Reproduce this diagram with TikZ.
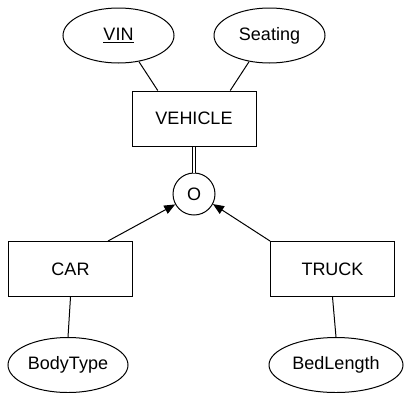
\documentclass[tikz,border=0pt]{standalone}
\usepackage{fontspec}
\setmainfont{Liberation Sans}
\usetikzlibrary{shapes.geometric,arrows.meta,calc}
\begin{document}
\begin{tikzpicture}[x=1pt,y=-1pt,
  every node/.style={font=\fontsize{18}{20}\selectfont},
  entity/.style={draw,line width=1pt,minimum width=124pt,minimum height=55pt,inner sep=0pt},
  attr/.style={draw,line width=1pt,ellipse,minimum height=55pt,inner sep=0pt},
  link/.style={line width=1pt},
  isa/.style={line width=1pt,-{Triangle[length=11pt,width=9pt]}}]
\useasboundingbox (0,0) rectangle (404,392);
% entities
\node[entity] (vehicle) at (194,118.5) {VEHICLE};
\node[entity] (car) at (70.5,269) {CAR};
\node[entity] (truck) at (332.5,269) {TRUCK};
% attributes
\node[attr,minimum width=111pt] (vin) at (118.5,35.5) {\underline{VIN}};
\node[attr,minimum width=111pt] (seating) at (269.5,35.5) {Seating};
\node[attr,minimum width=120pt] (bodytype) at (68,365) {BodyType};
\node[attr,minimum width=134pt] (bedlength) at (336,365) {BedLength};
% disjointness circle
\node[draw,line width=1pt,circle,minimum size=42pt,inner sep=0pt] (disj) at (194,194) {O};
% attribute links
\draw[link] (vin.-52) -- ($(vehicle.north west)!0.21!(vehicle.north east)$);
\draw[link] (seating.-128) -- ($(vehicle.north east)!0.21!(vehicle.north west)$);
\draw[link] (car.south) -- (bodytype.north);
\draw[link] (truck.south) -- (bedlength.north);
% total participation
\draw[line width=0.8pt,double,double distance=2.5pt] (vehicle.south) -- (disj.north);
% subclass arrows
\draw[isa] ($(car.north west)!0.8!(car.north east)$) -- (disj.209);
\draw[isa] (truck.north west) -- (disj.-28);
\end{tikzpicture}
\end{document}
